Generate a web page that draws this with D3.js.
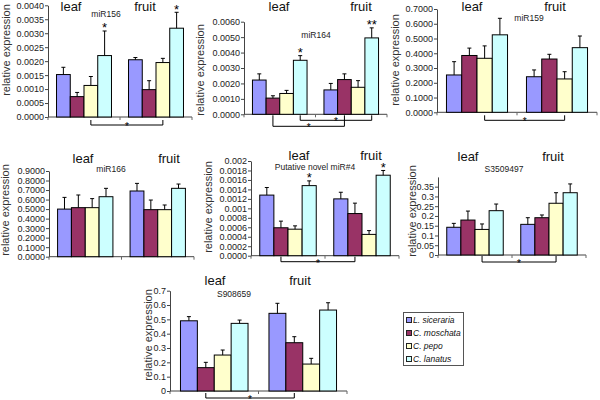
<!DOCTYPE html>
<html>
<head>
<meta charset="utf-8">
<script src="https://cdn.jsdelivr.net/npm/d3@7"></script>
<style>
  body { margin: 0; background: #fff; }
  svg { display: block; font-family: "Liberation Sans", Arial, sans-serif; }
</style>
</head>
<body>
<svg width="600" height="400"></svg>
<script>
// soorten en weefsels
const species = ["L. siceraria", "C. moschata", "C. pepo", "C. lanatus"];
const tissues = ["leaf", "fruit"];

// waarden per panel: eerst leaf (4 soorten), dan fruit (4 soorten)
const miR156Values = [0.00152, 0.00073, 0.00113, 0.00220, 0.00205, 0.00098, 0.00195, 0.00318];
const miR156Errors = [0.00026, 0.00015, 0.00032, 0.00088, 0.00008, 0.00032, 0.00015, 0.00057];
const miR156Stars = ["", "", "", "*", "", "", "", "*"];
const miR156Ticks = [0, 0.0005, 0.001, 0.0015, 0.002, 0.0025, 0.003, 0.0035, 0.004];

const miR164Values = [0.00222, 0.00105, 0.00135, 0.00350, 0.00158, 0.00225, 0.00175, 0.00495];
const miR164Errors = [0.00040, 0.00015, 0.00020, 0.00030, 0.00042, 0.00037, 0.00043, 0.00065];
const miR164Stars = ["", "", "", "*", "", "", "", "**"];
const miR164Ticks = [0, 0.001, 0.002, 0.003, 0.004, 0.005, 0.006];

const miR159Values = [0.253, 0.385, 0.366, 0.525, 0.241, 0.361, 0.226, 0.438];
const miR159Errors = [0.090, 0.050, 0.084, 0.112, 0.046, 0.032, 0.049, 0.079];
const miR159Ticks = [0, 0.1, 0.2, 0.3, 0.4, 0.5, 0.6, 0.7];

const miR166Values = [0.500, 0.515, 0.515, 0.630, 0.690, 0.494, 0.494, 0.718];
const miR166Errors = [0.123, 0.133, 0.095, 0.088, 0.080, 0.101, 0.049, 0.045];
const miR166Ticks = [0, 0.1, 0.2, 0.3, 0.4, 0.5, 0.6, 0.7, 0.8, 0.9];

const novelValues = [0.00128, 0.00059, 0.00056, 0.00148, 0.00120, 0.00089, 0.00045, 0.00170];
const novelErrors = [0.00016, 0.00014, 0.00007, 0.00010, 0.00014, 0.00022, 0.00008, 0.00010];
const novelStars = ["", "", "", "*", "", "", "", "*"];
const novelTicks = [0, 0.0002, 0.0004, 0.0006, 0.0008, 0.001, 0.0012, 0.0014, 0.0016, 0.0018, 0.002];
const novelTickLabels = ["0.0000", "0.0002", "0.0004", "0.0006", "0.0008", "0.001", "0.0012", "0.0014", "0.0016", "0.0018", "0.002"];

const s3509497Values = [0.142, 0.179, 0.131, 0.227, 0.157, 0.191, 0.265, 0.319];
const s3509497Errors = [0.020, 0.046, 0.028, 0.034, 0.034, 0.014, 0.054, 0.045];
const s3509497Ticks = [0, 0.05, 0.1, 0.15, 0.2, 0.25, 0.3, 0.35];
const s3509497TickLabels = ["0", "0.05", "0.1", "0.15", "0.2", "0.25", "0.3", "0.35"];

const s908659Values = [0.490, 0.163, 0.251, 0.472, 0.542, 0.337, 0.188, 0.565];
const s908659Errors = [0.029, 0.037, 0.035, 0.023, 0.070, 0.042, 0.040, 0.051];
const s908659Ticks = [0, 0.1, 0.2, 0.3, 0.4, 0.5, 0.6, 0.7];
const s908659TickLabels = ["0", "0.1", "0.2", "0.3", "0.4", "0.5", "0.6", "0.7"];

const colors = ["#9999ff", "#993366", "#ffffcc", "#ccffff"];

const svg = d3.select("svg");
svg.append("rect").attr("width", 600).attr("height", 400).attr("fill", "#fff");

const f4 = d3.format(".4f");

// layout per panel (pixels)
const panels = [
  { name: "miR156", values: miR156Values, errors: miR156Errors, stars: miR156Stars,
    ticks: miR156Ticks, fmt: f4, yMax: 0.004, yTop: 5.3, y0: 117, x0: 48, x1: 192,
    leafX: 71, fruitX: 145, titleY: 11, nameX: 106, nameY: 16.5, labX: 6, labY: 50,
    brackets: [{ sp: "C. pepo", a: 3, b: 8 }] },
  { name: "miR164", values: miR164Values, errors: miR164Errors, stars: miR164Stars,
    ticks: miR164Ticks, fmt: f4, yMax: 0.006, yTop: 21.7, y0: 114.3, x0: 244, x1: 387,
    leafX: 279, fruitX: 361, titleY: 11, nameX: 316, nameY: 38, labX: 200, labY: 70,
    brackets: [{ sp: "C. moschata", a: 1, b: 12 }, { sp: "C. lanatus", a: 1, b: 6 }] },
  { name: "miR159", values: miR159Values, errors: miR159Errors,
    ticks: miR159Ticks, fmt: f4, yMax: 0.7, yTop: 9, y0: 112.3, x0: 437, x1: 597,
    leafX: 472, fruitX: 555, titleY: 11, nameX: 529, nameY: 21, labX: 395, labY: 60,
    brackets: [{ sp: "C. pepo", a: 3, b: 8 }] },
  { name: "miR166", values: miR166Values, errors: miR166Errors,
    ticks: miR166Ticks, fmt: f4, yMax: 0.9, yTop: 171, y0: 256.7, x0: 49, x1: 194,
    leafX: 83, fruitX: 169, titleY: 163, nameX: 111, nameY: 172, labX: 5, labY: 210,
    brackets: [] },
  { name: "Putative novel miR#4", values: novelValues, errors: novelErrors, stars: novelStars,
    ticks: novelTicks, labels: novelTickLabels, yMax: 0.002, yTop: 161, y0: 255.7, x0: 251, x1: 399,
    leafX: 299, fruitX: 371, titleY: 160, nameX: 315, nameY: 170, labX: 208, labY: 207,
    brackets: [{ sp: "C. moschata", a: 1, b: 6 }] },
  { name: "S3509497", values: s3509497Values, errors: s3509497Errors,
    ticks: s3509497Ticks, labels: s3509497TickLabels, yMax: 0.4, yTop: 176.9, y0: 255, x0: 438, x1: 586,
    leafX: 468, fruitX: 553, titleY: 161, nameX: 504, nameY: 172, labX: 412, labY: 211,
    brackets: [{ sp: "C. pepo", a: 1, b: 7 }] },
  { name: "S908659", values: s908659Values, errors: s908659Errors,
    ticks: s908659Ticks, labels: s908659TickLabels, yMax: 0.7, yTop: 290.7, y0: 391, x0: 170, x1: 347,
    leafX: 215, fruitX: 300, titleY: 285, nameX: 234, nameY: 297, labX: 148, labY: 335,
    brackets: [{ sp: "C. moschata", a: 2, b: 7 }] }
];

function drawPanel(p) {
  const g = svg.append("g");
  const y = d3.scaleLinear().domain([0, p.yMax]).range([p.y0, p.yTop]);
  const xT = d3.scaleBand().domain(tissues).range([p.x0, p.x1]);
  const xS = d3.scaleBand().domain(species).range([0, xT.bandwidth()]).paddingOuter(0.62);

  const rows = p.values.map((v, i) => ({
    tissue: tissues[Math.floor(i / 4)],
    sp: species[i % 4],
    col: colors[i % 4],
    v: v,
    e: p.errors[i],
    star: p.stars ? p.stars[i] : ""
  }));
  const cx = d => xT(d.tissue) + xS(d.sp) + xS.bandwidth() / 2;

  // y as
  const yAxis = d3.axisLeft(y).tickValues(p.ticks).tickSizeInner(3).tickSizeOuter(0).tickPadding(1)
    .tickFormat((d, i) => p.labels ? p.labels[i] : p.fmt(d));
  const ya = g.append("g").attr("transform", `translate(${p.x0},0)`).call(yAxis);
  ya.selectAll("text").attr("font-size", 9).attr("fill", "#222").attr("font-family", null);
  ya.selectAll("line").attr("stroke", "#444");
  ya.select(".domain").attr("stroke", "#444");

  // x as
  g.append("line").attr("x1", p.x0).attr("x2", p.x1).attr("y1", p.y0).attr("y2", p.y0)
    .attr("stroke", "#444");
  g.selectAll(".xt").data([p.x0, (p.x0 + p.x1) / 2, p.x1]).enter().append("line")
    .attr("x1", d => d).attr("x2", d => d).attr("y1", p.y0).attr("y2", p.y0 + 3)
    .attr("stroke", "#666");

  // staven
  g.selectAll(".bar").data(rows).enter().append("rect")
    .attr("x", d => xT(d.tissue) + xS(d.sp))
    .attr("y", d => y(d.v))
    .attr("width", xS.bandwidth())
    .attr("height", d => y(0) - y(d.v))
    .attr("fill", d => d.col)
    .attr("stroke", "#000")
    .attr("stroke-width", 1);

  // foutbalken
  g.selectAll(".err").data(rows).enter().append("line")
    .attr("x1", cx).attr("x2", cx)
    .attr("y1", d => y(d.v)).attr("y2", d => y(d.v + d.e))
    .attr("stroke", "#000");
  g.selectAll(".cap").data(rows).enter().append("line")
    .attr("x1", d => cx(d) - 2).attr("x2", d => cx(d) + 2)
    .attr("y1", d => y(d.v + d.e)).attr("y2", d => y(d.v + d.e))
    .attr("stroke", "#000");

  // sterretjes
  g.selectAll(".star").data(rows.filter(d => d.star)).enter().append("text")
    .attr("x", cx).attr("y", d => y(d.v + d.e) + 1.5)
    .attr("text-anchor", "middle").attr("font-size", 13).attr("fill", "#000")
    .text(d => d.star);

  // haken onder de as
  p.brackets.forEach(b => {
    const xa = xT("leaf") + xS(b.sp) + xS.bandwidth() / 2;
    const xb = xT("fruit") + xS(b.sp) + xS.bandwidth() / 2;
    const ya1 = p.y0 + b.a, yb1 = p.y0 + b.b;
    g.append("path")
      .attr("d", `M${xa},${ya1}V${yb1}H${xb}V${ya1}`)
      .attr("fill", "none").attr("stroke", "#000").attr("stroke-width", 1);
    g.append("text").attr("x", (xa + xb) / 2).attr("y", yb1 + 5)
      .attr("text-anchor", "middle").attr("font-size", 10).text("*");
  });

  // titels
  g.append("text").attr("x", p.leafX).attr("y", p.titleY).attr("text-anchor", "middle")
    .attr("font-size", 13).attr("fill", "#111").text("leaf");
  g.append("text").attr("x", p.fruitX).attr("y", p.titleY).attr("text-anchor", "middle")
    .attr("font-size", 13).attr("fill", "#111").text("fruit");
  g.append("text").attr("x", p.nameX).attr("y", p.nameY).attr("text-anchor", "middle")
    .attr("font-size", 8.5).attr("fill", "#222").text(p.name);
  g.append("text")
    .attr("transform", `translate(${p.labX},${p.labY}) rotate(-90)`)
    .attr("text-anchor", "middle").attr("dy", "0.35em")
    .attr("font-size", 11).attr("fill", "#333").text("relative expression");
}

panels.forEach(drawPanel);

// legenda
const leg = svg.append("g");
leg.append("rect").attr("x", 403.5).attr("y", 312.5).attr("width", 60).attr("height", 53)
  .attr("fill", "#fff").attr("stroke", "#555");
const ly = d3.scalePoint().domain(species).range([320, 359]);
leg.selectAll(".sw").data(species).enter().append("rect")
  .attr("x", 406.5).attr("y", d => ly(d) - 2.5).attr("width", 5).attr("height", 5)
  .attr("fill", (d, i) => colors[i]).attr("stroke", "#222");
leg.selectAll(".lt").data(species).enter().append("text")
  .attr("x", 413).attr("y", d => ly(d) + 3)
  .attr("font-size", 8.5).attr("font-style", "italic").attr("fill", "#111")
  .text(d => d);
</script>
</body>
</html>
